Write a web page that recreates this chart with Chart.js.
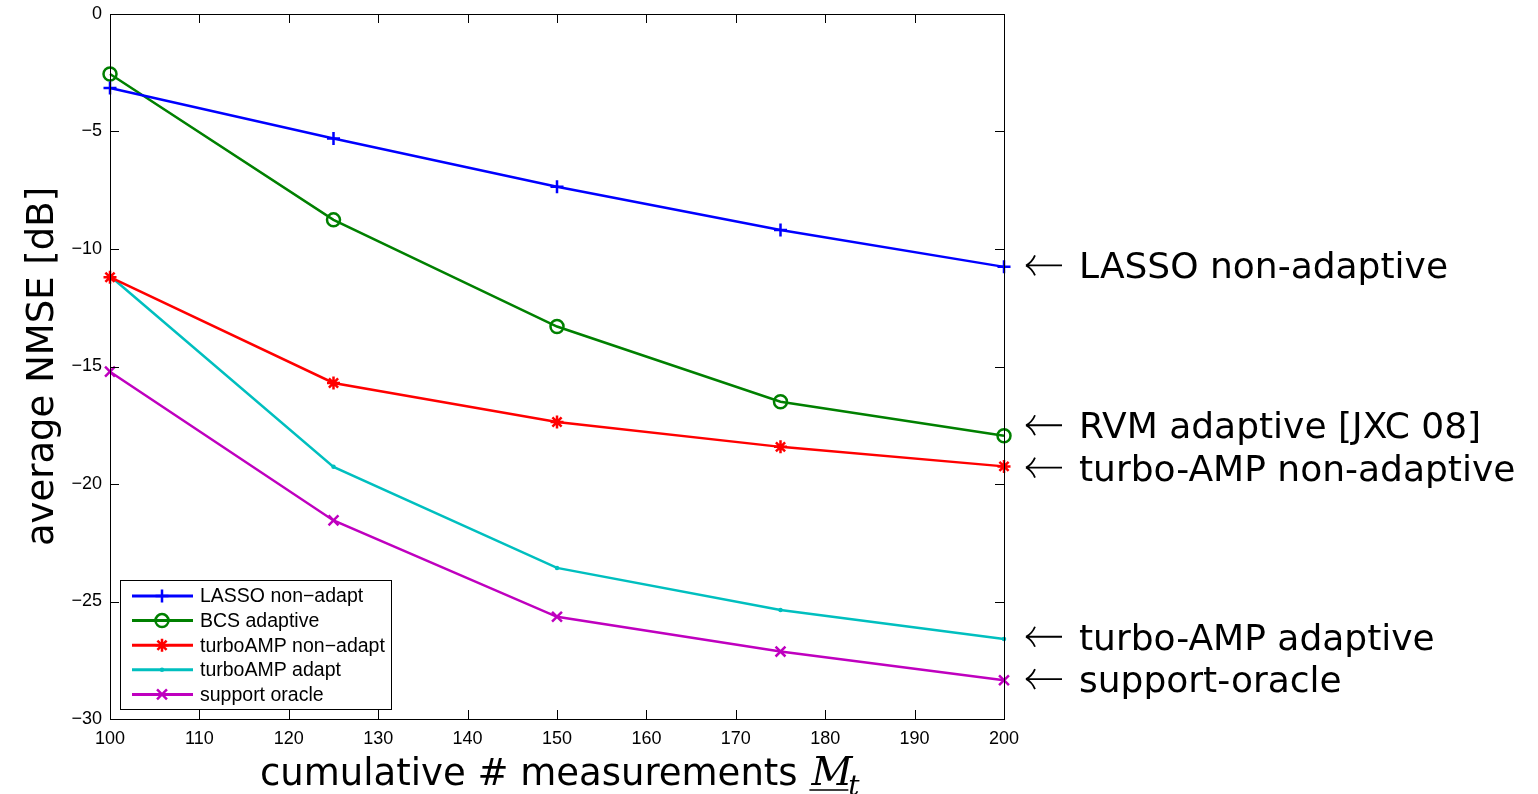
<!DOCTYPE html>
<html lang="en">
<head>
    <meta charset="UTF-8">
    <title>average NMSE vs cumulative measurements</title>
    <script src="https://cdn.jsdelivr.net/npm/chart.js"></script>
    <style>
        html, body { margin: 0; padding: 0; background: #fff; }
        .wrap { width: 1538px; height: 794px; position: relative; }
    </style>
</head>
<body>
<div class="wrap">
    <canvas id="grafico" width="1538" height="794"></canvas>
</div>
<script>
    // dados
    const medidas = [100, 125, 150, 175, 200];
    const lassoNonAdapt = [-3.15, -5.3, -7.35, -9.19, -10.76];
    const bcsAdaptive = [-2.55, -8.76, -13.3, -16.5, -17.95];
    const turboNonAdapt = [-11.2, -15.7, -17.36, -18.42, -19.25];
    const turboAdapt = [-11.15, -19.27, -23.57, -25.36, -26.6];
    const supportOracle = [-15.22, -21.55, -25.65, -27.13, -28.35];

    const xTicks = [100, 110, 120, 130, 140, 150, 160, 170, 180, 190, 200];
    const yTicks = [0, -5, -10, -15, -20, -25, -30];

    const legendLabels = ['LASSO non\u2212adapt', 'BCS adaptive', 'turboAMP non\u2212adapt', 'turboAMP adapt', 'support oracle'];
    const notaTextos = ['LASSO non-adaptive', 'RVM adaptive [JXC 08]', 'turbo-AMP non-adaptive', 'turbo-AMP adaptive', 'support-oracle'];
    const notaValores = [-10.7, -17.5, -19.3, -26.5, -28.3];

    const FONT_TICK = '"Liberation Sans", Arial, sans-serif';
    const FONT_BIG = '"DejaVu Sans", sans-serif';

    function serie(label, valores, cor, estilo, raio) {
        return {
            label: label,
            data: medidas.map((x, i) => ({ x: x, y: valores[i] })),
            borderColor: cor,
            backgroundColor: cor,
            pointBorderColor: cor,
            pointBackgroundColor: estilo === 'circle' ? 'rgba(255,255,255,0)' : cor,
            pointStyle: estilo,
            pointRadius: raio,
            pointBorderWidth: 2.5,
            borderWidth: 2.5,
            tension: 0,
            clip: false
        };
    }

    const caixaPlugin = {
        id: 'caixa',
        afterDraw(chart) {
            const ctx = chart.ctx;
            const a = chart.chartArea;
            const sx = chart.scales.x, sy = chart.scales.y;
            ctx.save();
            ctx.strokeStyle = '#000';
            ctx.lineWidth = 1;
            ctx.strokeRect(a.left + 0.5, a.top + 0.5, a.right - a.left, a.bottom - a.top);
            ctx.beginPath();
            xTicks.forEach(v => {
                const px = Math.round(sx.getPixelForValue(v)) + 0.5;
                ctx.moveTo(px, a.bottom); ctx.lineTo(px, a.bottom - 9);
                ctx.moveTo(px, a.top); ctx.lineTo(px, a.top + 9);
            });
            yTicks.forEach(v => {
                const py = Math.round(sy.getPixelForValue(v)) + 0.5;
                ctx.moveTo(a.left, py); ctx.lineTo(a.left + 9, py);
                ctx.moveTo(a.right, py); ctx.lineTo(a.right - 9, py);
            });
            ctx.stroke();

            // legenda
            const lx = 120, ly = 580, lw = 271, lh = 129;
            ctx.fillStyle = '#fff';
            ctx.fillRect(lx, ly, lw, lh);
            ctx.strokeRect(lx + 0.5, ly + 0.5, lw, lh);
            ctx.font = '19.5px ' + FONT_TICK;
            ctx.textBaseline = 'middle';
            chart.data.datasets.forEach((ds, i) => {
                const y = 596 + i * 24.6;
                ctx.strokeStyle = ds.borderColor;
                ctx.fillStyle = ds.pointBackgroundColor;
                ctx.lineWidth = 3;
                ctx.beginPath();
                ctx.moveTo(132, y); ctx.lineTo(193, y);
                ctx.stroke();
                ctx.lineWidth = 2.5;
                Chart.helpers.drawPoint(ctx, { pointStyle: ds.pointStyle, radius: ds.pointRadius, borderWidth: 2.5, rotation: 0 }, 162, y);
                ctx.fillStyle = '#000';
                ctx.fillText(legendLabels[i], 200, y + 1);
            });

            // anotações à direita
            ctx.font = '36px ' + FONT_BIG;
            ctx.textBaseline = 'alphabetic';
            ctx.strokeStyle = '#000';
            ctx.fillStyle = '#000';
            ctx.lineWidth = 1.8;
            notaTextos.forEach((t, i) => {
                const y = sy.getPixelForValue(notaValores[i]);
                ctx.beginPath();
                ctx.moveTo(1026, y); ctx.lineTo(1062, y);
                ctx.moveTo(1026, y);
                ctx.quadraticCurveTo(1032, y - 3, 1035, y - 10);
                ctx.moveTo(1026, y);
                ctx.quadraticCurveTo(1032, y + 3, 1035, y + 10);
                ctx.stroke();
                ctx.fillText(t, 1079, y + 13);
            });

            // título do eixo x
            let x = 260;
            const base = 785;
            ctx.font = '37px ' + FONT_BIG;
            const t1 = 'cumulative # measurements ';
            ctx.fillText(t1, x, base);
            x += ctx.measureText(t1).width + 2;
            ctx.font = 'italic 40px "DejaVu Serif", serif';
            ctx.fillText('M', x, base);
            const wm = ctx.measureText('M').width;
            ctx.lineWidth = 1.5;
            ctx.beginPath();
            ctx.moveTo(x - 2, base + 5); ctx.lineTo(x + wm - 4, base + 5);
            ctx.stroke();
            ctx.font = 'italic 28px "DejaVu Serif", serif';
            ctx.fillText('t', x + wm - 4, base + 10);

            // título do eixo y
            ctx.save();
            ctx.translate(53, (a.top + a.bottom) / 2);
            ctx.rotate(-Math.PI / 2);
            ctx.font = '37px ' + FONT_BIG;
            ctx.textAlign = 'center';
            ctx.fillText('average NMSE [dB]', 0, 0);
            ctx.restore();
            ctx.restore();
        }
    };

    new Chart(document.getElementById('grafico'), {
        type: 'line',
        data: {
            datasets: [
                serie(legendLabels[0], lassoNonAdapt, '#0000ff', 'cross', 6.5),
                serie(legendLabels[1], bcsAdaptive, '#008000', 'circle', 6.5),
                serie(legendLabels[2], turboNonAdapt, '#ff0000', 'star', 6.5),
                serie(legendLabels[3], turboAdapt, '#00bfbf', 'circle', 1),
                serie(legendLabels[4], supportOracle, '#bf00bf', 'crossRot', 7)
            ]
        },
        options: {
            responsive: false,
            animation: false,
            layout: { padding: { left: 0, top: 14, right: 534, bottom: 0 } },
            plugins: {
                legend: { display: false },
                tooltip: { enabled: false }
            },
            scales: {
                x: {
                    type: 'linear',
                    min: 100,
                    max: 200,
                    afterFit: s => { s.height = 75; s.paddingLeft = 0; s.paddingRight = 0; },
                    afterBuildTicks: s => { s.ticks = xTicks.map(v => ({ value: v })); },
                    grid: { display: false, drawTicks: false },
                    border: { display: false },
                    ticks: { color: '#000', padding: 9, maxRotation: 0, font: { family: FONT_TICK, size: 18 } }
                },
                y: {
                    type: 'linear',
                    min: -30,
                    max: 0,
                    afterFit: s => { s.width = 110; s.paddingTop = 0; s.paddingBottom = 0; },
                    afterBuildTicks: s => { s.ticks = yTicks.map(v => ({ value: v })); },
                    grid: { display: false, drawTicks: false },
                    border: { display: false },
                    ticks: {
                        color: '#000',
                        padding: 8,
                        font: { family: FONT_TICK, size: 18 },
                        callback: v => String(v).replace('-', '\u2212')
                    }
                }
            }
        },
        plugins: [caixaPlugin]
    });
</script>
</body>
</html>
